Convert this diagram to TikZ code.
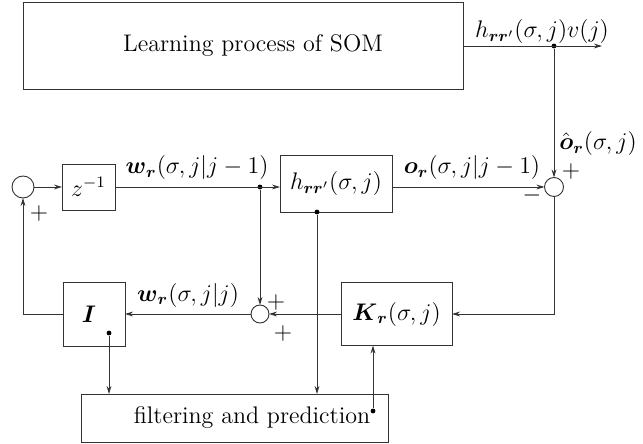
\documentclass[tikz,border=0pt]{standalone}
\usepackage{amsmath}
\usetikzlibrary{arrows.meta,calc}
\begin{document}
\begin{tikzpicture}[x=0.5pt,y=-0.5pt,
  font=\large,
  line width=0.45pt, draw=black!80,
  blk/.style={draw, rectangle, inner sep=0pt, outer sep=0pt},
  sumc/.style={draw, circle, inner sep=0pt, outer sep=0pt},
  arr/.style={-{Stealth[length=4pt,width=2.4pt]}},
  dotc/.style={circle, fill=black, inner sep=0pt, minimum size=2.4pt},
  lbl/.style={inner sep=0pt}]
\useasboundingbox (0,0) rectangle (643,444);
% blocks
\node[blk, minimum width=220pt, minimum height=43.5pt] (som) at (243,46) {\hspace*{10pt}Learning process of SOM};
\node[blk, minimum width=26.5pt, minimum height=23pt] (z) at (88.5,187) {$z^{-1}$};
\node[blk, minimum width=56pt, minimum height=28.5pt] (h) at (336,183.5) {$h_{\boldsymbol{r}\boldsymbol{r}'}(\sigma,j)$};
\node[blk, minimum width=31pt, minimum height=32pt] (I) at (94,314) {\hspace*{-5pt}$\boldsymbol{I}$};
\node[blk, minimum width=55.5pt, minimum height=31.5pt] (K) at (396.5,314) {$\boldsymbol{K}_{\boldsymbol{r}}(\sigma,j)$};
\node[blk, minimum width=153.5pt, minimum height=24pt] (f) at (234.5,418) {\hspace*{17.5pt}filtering and prediction};
% summing circles
\node[sumc, minimum size=11pt] (cl) at (23,187) {};
\node[sumc, minimum size=9.5pt] (cr) at (554,187) {};
\node[sumc, minimum size=9pt] (cs) at (260,314) {};
% junction points
\coordinate (outend) at (602,46);
\node[dotc] (d0) at (554,46) {};
\node[dotc] (d1) at (260,187) {};
\node[dotc] (dh) at (317,212) {};
\node[dotc] (dI) at (109,333) {};
\node[dotc] (df) at (373,411) {};
% connectors
\draw[arr] (som.east |- outend) -- (outend);
\draw[arr] (d0) -- (cr.north);
\draw[arr] (cl.east) -- (z.west);
\draw[arr] (z.east) -- (h.west |- z.east);
\draw[arr] (h.east |- z.east) -- (cr.west);
\draw[arr] (d1) -- (cs.north);
\draw[arr] (cr.south) |- (K.east);
\draw[arr] (K.west) -- (cs.east);
\draw[arr] (cs.west) -- (I.east);
\draw[arr] (I.west) -| (cl.south);
\draw[arr] (dI) -- (dI |- f.north);
\draw[arr] (dh) -- (dh |- f.north);
\draw[arr] (df) -- (df |- K.south);
% labels
\node[lbl] (l1) at (542,32) {$h_{\boldsymbol{r}\boldsymbol{r}'}(\sigma,j)v(j)$};
\node[lbl] (l2) at (598,144) {$\hat{\boldsymbol{o}}_{\boldsymbol{r}}(\sigma,j)$};
\node[lbl] (l3) at (197,168) {$\boldsymbol{w}_{\boldsymbol{r}}(\sigma,j|j-1)$};
\node[lbl] (l4) at (472,168) {$\boldsymbol{o}_{\boldsymbol{r}}(\sigma,j|j-1)$};
\node[lbl] (l5) at (188,295) {$\boldsymbol{w}_{\boldsymbol{r}}(\sigma,j|j)$};
\node[lbl] (p1) at (39,214) {$+$};
\node[lbl] (p2) at (571,171) {$+$};
\node[lbl] (m1) at (532,196) {$-$};
\node[lbl] (p3) at (276,302) {$+$};
\node[lbl] (p4) at (283,333) {$+$};
\end{tikzpicture}
\end{document}
